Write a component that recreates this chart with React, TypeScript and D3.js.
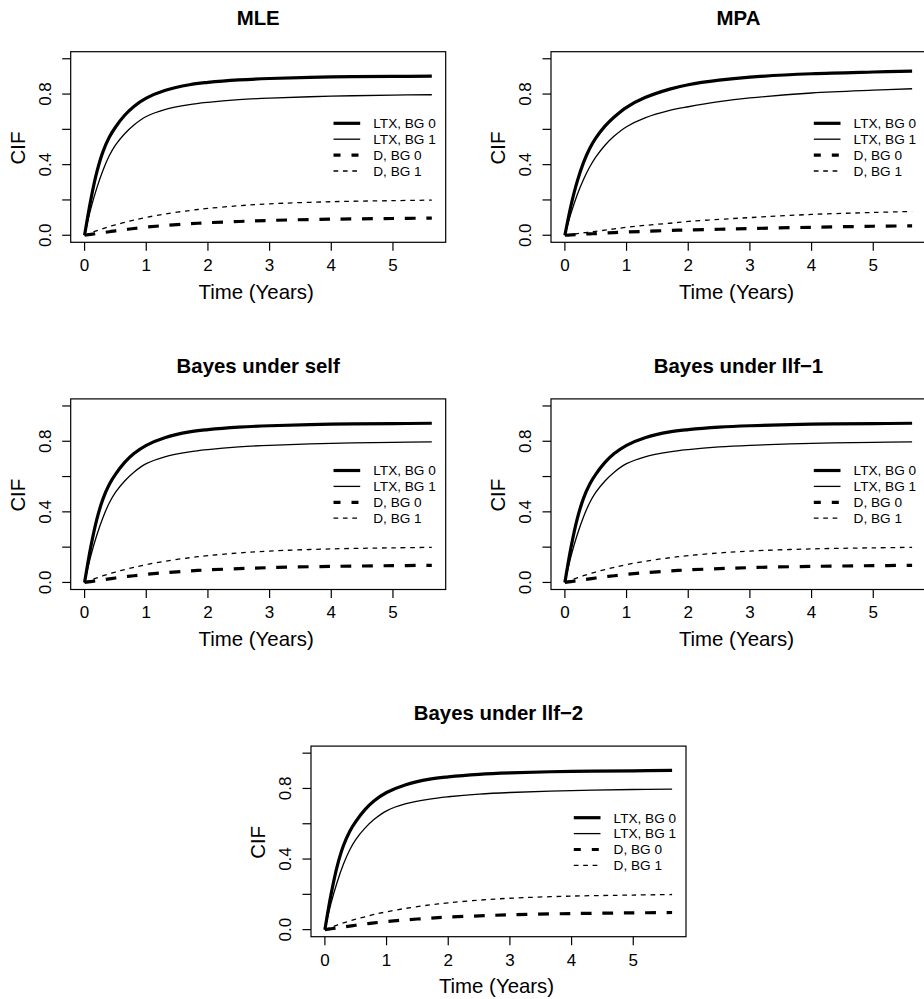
import React from "react";
import * as d3 from "d3";

// time grid (years) the curves were read at
const times = [0, 0.1, 0.2, 0.3, 0.4, 0.5, 0.65, 0.8, 1, 1.3, 1.7, 2, 2.5, 3, 4, 5, 5.63];

// MLE (the three Bayes panels look the same)
const mleLtxBg0 = [0, 0.2, 0.36, 0.475, 0.555, 0.612, 0.68, 0.73, 0.777, 0.82, 0.853, 0.866, 0.88, 0.888, 0.897, 0.9, 0.902];
const mleLtxBg1 = [0, 0.15, 0.27, 0.37, 0.45, 0.51, 0.575, 0.625, 0.673, 0.712, 0.74, 0.753, 0.768, 0.777, 0.788, 0.794, 0.796];
const mleDBg0 = [0, 0.005, 0.01, 0.015, 0.02, 0.025, 0.032, 0.038, 0.046, 0.055, 0.065, 0.071, 0.078, 0.084, 0.091, 0.095, 0.097];
const mleDBg1 = [0, 0.013, 0.026, 0.038, 0.049, 0.059, 0.073, 0.086, 0.101, 0.12, 0.14, 0.152, 0.167, 0.178, 0.19, 0.196, 0.199];

// MPA
const mpaLtxBg0 = [0, 0.17, 0.305, 0.41, 0.49, 0.55, 0.618, 0.67, 0.725, 0.78, 0.828, 0.853, 0.879, 0.896, 0.915, 0.925, 0.93];
const mpaLtxBg1 = [0, 0.125, 0.23, 0.315, 0.385, 0.442, 0.51, 0.562, 0.615, 0.665, 0.707, 0.728, 0.757, 0.778, 0.806, 0.822, 0.83];
const mpaDBg0 = [0, 0.002, 0.004, 0.006, 0.008, 0.009, 0.012, 0.015, 0.018, 0.022, 0.027, 0.03, 0.034, 0.038, 0.045, 0.051, 0.053];
const mpaDBg1 = [0, 0.005, 0.009, 0.014, 0.018, 0.022, 0.029, 0.036, 0.045, 0.056, 0.068, 0.078, 0.09, 0.1, 0.118, 0.129, 0.135];

const legendLabels = ["LTX, BG 0", "LTX, BG 1", "D, BG 0", "D, BG 1"];
const xTicks = [0, 1, 2, 3, 4, 5];
const yTicks = [0, 0.2, 0.4, 0.6, 0.8, 1.0];
const yLabelled = [0, 0.4, 0.8];

const styles = [
  { width: 3.2, dash: "none" },
  { width: 1.3, dash: "none" },
  { width: 3.2, dash: "10.7 10.7" },
  { width: 1.3, dash: "4.7 4.7" },
];

const mleSeries = [mleLtxBg0, mleLtxBg1, mleDBg0, mleDBg1];
const mpaSeries = [mpaLtxBg0, mpaLtxBg1, mpaDBg0, mpaDBg1];

const panels = [
  { title: "MLE", series: mleSeries, left: 70.7, top: 51.7 },
  { title: "MPA", series: mpaSeries, left: 551, top: 51.7 },
  { title: "Bayes under self", series: mleSeries, left: 70.7, top: 398.9 },
  { title: "Bayes under llf\u22121", series: mleSeries, left: 551, top: 398.9 },
  { title: "Bayes under llf\u22122", series: mleSeries, left: 311, top: 746.1 },
];

const W = 375;
const H = 190.6;
const font = "'Liberation Sans', Arial, Helvetica, sans-serif";

const Panel = ({ title, series, left, top }) => {
  const tMax = times[times.length - 1];
  const x = d3.scaleLinear().domain([-0.04 * tMax, 1.04 * tMax]).range([0, W]);
  const y = d3.scaleLinear().domain([-0.04, 1.04]).range([H, 0]);
  const line = d3
    .line<number>()
    .x((_, i) => x(times[i]))
    .y((d) => y(d))
    .curve(d3.curveCatmullRom.alpha(0.5));

  return (
    <g transform={`translate(${left},${top})`} fontFamily={font} fill="#000">
      <text x={W / 2} y={-26.4} textAnchor="middle" fontSize={20.4} fontWeight="bold">
        {title}
      </text>
      <rect x={0} y={0} width={W} height={H} fill="none" stroke="#000" strokeWidth={1.2} />
      {series.map((vals, i) => (
        <path
          key={i}
          d={line(vals) || ""}
          fill="none"
          stroke="#000"
          strokeWidth={styles[i].width}
          strokeDasharray={styles[i].dash}
        />
      ))}
      {xTicks.map((t) => (
        <g key={t}>
          <line x1={x(t)} x2={x(t)} y1={H} y2={H + 8.5} stroke="#000" strokeWidth={1.2} />
          <text x={x(t)} y={H + 29} textAnchor="middle" fontSize={17}>
            {t}
          </text>
        </g>
      ))}
      {yTicks.map((v) => (
        <line key={v} x1={-8.5} x2={0} y1={y(v)} y2={y(v)} stroke="#000" strokeWidth={1.2} />
      ))}
      {yLabelled.map((v) => (
        <text
          key={v}
          transform={`translate(${-19.6},${y(v)}) rotate(-90)`}
          textAnchor="middle"
          fontSize={17}
        >
          {v.toFixed(1)}
        </text>
      ))}
      <text x={W / 2 - 2} y={H + 56.7} textAnchor="middle" fontSize={20.4}>
        Time (Years)
      </text>
      <text transform={`translate(${-45.7},${H / 2 + 1}) rotate(-90)`} textAnchor="middle" fontSize={20.4}>
        CIF
      </text>
      {legendLabels.map((lab, i) => {
        const ly = 71.6 + i * 15.9;
        return (
          <g key={lab}>
            <line
              x1={262.8}
              x2={289.5}
              y1={ly}
              y2={ly}
              stroke="#000"
              strokeWidth={styles[i].width}
              strokeDasharray={i === 2 ? "7 11" : styles[i].dash}
            />
            <text x={302.6} y={ly + 4.9} fontSize={13.6}>
              {lab}
            </text>
          </g>
        );
      })}
    </g>
  );
};

export default function App() {
  return (
    <svg
      width={924}
      height={999}
      style={{ position: "absolute", left: 0, top: 0, background: "#fff" }}
    >
      {panels.map((p) => (
        <Panel key={p.title} {...p} />
      ))}
    </svg>
  );
}
